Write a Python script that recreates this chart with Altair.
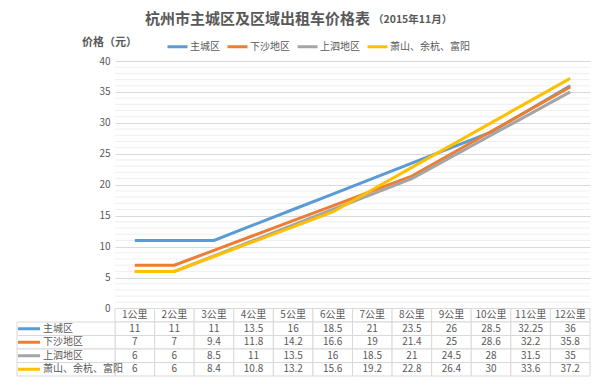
import altair as alt
import pandas as pd

km_labels = ["1公里", "2公里", "3公里", "4公里", "5公里", "6公里",
             "7公里", "8公里", "9公里", "10公里", "11公里", "12公里"]
series_names = ["主城区", "下沙地区", "上泗地区", "萧山、余杭、富阳"]
zhucheng = [11, 11, 11, 13.5, 16, 18.5, 21, 23.5, 26, 28.5, 32.25, 36]
xiasha = [7, 7, 9.4, 11.8, 14.2, 16.6, 19, 21.4, 25, 28.6, 32.2, 35.8]
shangsi = [6, 6, 8.5, 11, 13.5, 16, 18.5, 21, 24.5, 28, 31.5, 35]
xiaoshan = [6, 6, 8.4, 10.8, 13.2, 15.6, 19.2, 22.8, 26.4, 30, 33.6, 37.2]
series_values = [zhucheng, xiasha, shangsi, xiaoshan]
colors = ["#5B9BD5", "#ED7D31", "#A5A5A5", "#FFC000"]
title_main = "杭州市主城区及区域出租车价格表"
title_note = "（2015年11月）"
y_title = "价格（元）"

FONT = "Noto Sans CJK SC"
TXT = "#595959"
W, H = 475, 315
PLOT_H = 247.5

rows = []
for s, vals in zip(series_names, series_values):
    for i, (k, v) in enumerate(zip(km_labels, vals)):
        rows.append({"series": s, "km": k, "idx": i, "value": v})
df = pd.DataFrame(rows)

table_rows = ["header"] + series_names
cells = []
for k in km_labels:
    cells.append({"km": k, "row": "header", "label": k})
for s, vals in zip(series_names, series_values):
    for k, v in zip(km_labels, vals):
        cells.append({"km": k, "row": s, "label": f"{v:g}"})
cells_df = pd.DataFrame(cells)
labels_df = pd.DataFrame({"row": series_names, "series": series_names})

x_scale = alt.Scale(type="band", domain=km_labels, paddingInner=0, paddingOuter=0)
y_scale = alt.Scale(domain=[0, 40], range=[PLOT_H, 0], nice=False, zero=True)
t_scale = alt.Scale(type="band", domain=table_rows, range=[PLOT_H, H],
                    paddingInner=0, paddingOuter=0)
color_scale = alt.Scale(domain=series_names, range=colors)

minor_df = pd.DataFrame({"v": [v for v in range(1, 40) if v % 5]})
minor = alt.Chart(minor_df).mark_rule(color="#EFEFEF", strokeWidth=1).encode(
    y=alt.Y("v:Q", scale=y_scale, axis=None)
)

lines = alt.Chart(df).mark_line(strokeWidth=3).encode(
    x=alt.X("km:N", scale=x_scale, axis=None, bandPosition=0.5, sort=km_labels),
    y=alt.Y("value:Q", scale=y_scale,
            axis=alt.Axis(values=list(range(0, 41, 5)), grid=True, gridColor="#D9D9D9",
                          domain=False, ticks=False, labelColor=TXT, labelFontSize=10,
                          labelPadding=5, labelFont=FONT,
                          title=y_title, titleAngle=0, titleX=-6, titleY=-19,
                          titleAlign="center", titleBaseline="middle", titleFontSize=11,
                          titleFontWeight="bold", titleColor=TXT, titleFont=FONT)),
    color=alt.Color("series:N", scale=color_scale, sort=series_names,
                    legend=alt.Legend(orient="none", legendX=51, legendY=-26,
                                      direction="horizontal", title=None,
                                      symbolType="stroke", symbolStrokeWidth=3,
                                      symbolSize=400, labelFontSize=10, labelColor=TXT,
                                      labelFont=FONT, columnPadding=1, labelOffset=1)),
    order=alt.Order("idx:Q"),
)

cell_rects = alt.Chart(cells_df).mark_rect(fill="white", stroke="#D9D9D9", strokeWidth=1).encode(
    x=alt.X("km:N", scale=x_scale, axis=None, sort=km_labels),
    y=alt.Y("row:N", scale=t_scale, axis=None, sort=table_rows),
)
cell_text = alt.Chart(cells_df).mark_text(fontSize=10, color=TXT, font=FONT,
                                          baseline="middle").encode(
    x=alt.X("km:N", scale=x_scale, axis=None, sort=km_labels),
    y=alt.Y("row:N", scale=t_scale, axis=None, sort=table_rows),
    text="label:N",
)
label_rects = alt.Chart(labels_df).mark_rect(fill="white", stroke="#D9D9D9", strokeWidth=1).encode(
    x=alt.value(-98), x2=alt.value(0),
    y=alt.Y("row:N", scale=t_scale, axis=None, sort=table_rows),
)
label_swatch = alt.Chart(labels_df).mark_rule(strokeWidth=3).encode(
    x=alt.value(-97), x2=alt.value(-75),
    y=alt.Y("row:N", scale=t_scale, axis=None, sort=table_rows, bandPosition=0.5),
    color=alt.Color("series:N", scale=color_scale, sort=series_names, legend=None),
)
label_text = alt.Chart(labels_df).mark_text(align="left", baseline="middle", fontSize=10,
                                            color=TXT, font=FONT).encode(
    x=alt.value(-72),
    y=alt.Y("row:N", scale=t_scale, axis=None, sort=table_rows),
    text="row:N",
)
title_df = pd.DataFrame({"t": [title_main]})
title_mark = alt.Chart(title_df).mark_text(
    align="left", baseline="middle", fontSize=15, fontWeight="bold", color=TXT, font=FONT
).encode(x=alt.value(30), y=alt.value(-42), text="t:N")
note = alt.Chart(pd.DataFrame({"t": [title_note]})).mark_text(
    align="left", baseline="middle", fontSize=10.5, fontWeight="bold", color=TXT, font=FONT
).encode(x=alt.value(258), y=alt.value(-41), text="t:N")

chart = alt.layer(
    minor, lines, cell_rects, cell_text, label_rects, label_swatch, label_text,
    title_mark, note
).resolve_scale(y="independent").properties(
    width=W, height=H,
    autosize=alt.AutoSizeParams(type="none"),
    padding={"left": 107, "top": 53, "right": 2, "bottom": 7},
).configure(font=FONT).configure_view(stroke=None)

chart.save("out.html", embed_options={"renderer": "svg", "actions": False})
